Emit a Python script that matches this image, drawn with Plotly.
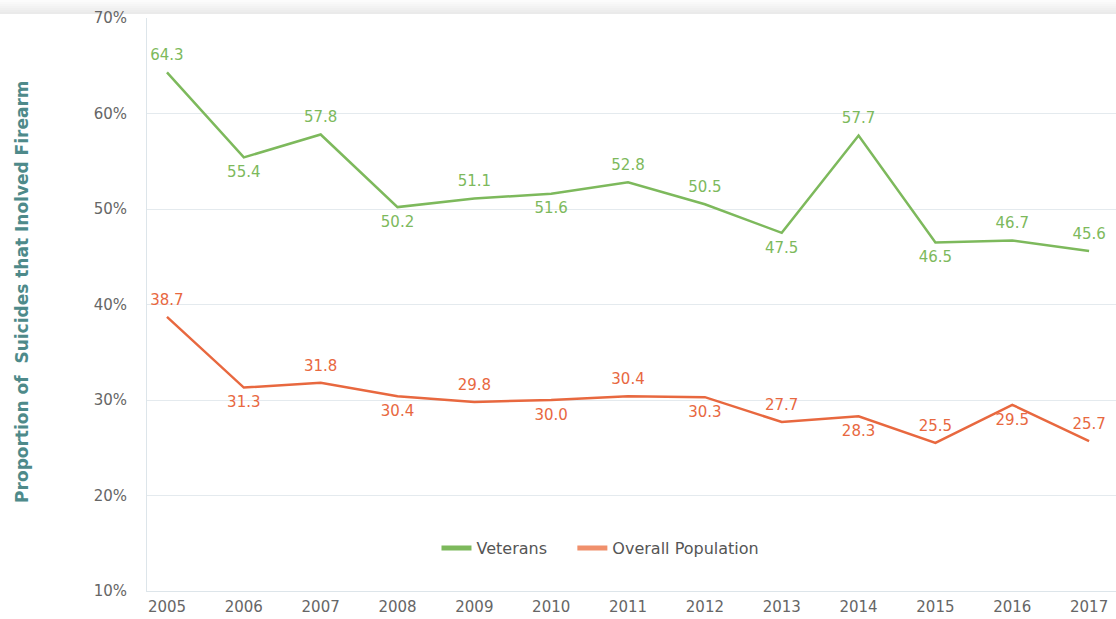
import plotly.graph_objects as go

years = [2005, 2006, 2007, 2008, 2009, 2010, 2011, 2012, 2013, 2014, 2015, 2016, 2017]
veterans = [64.3, 55.4, 57.8, 50.2, 51.1, 51.6, 52.8, 50.5, 47.5, 57.7, 46.5, 46.7, 45.6]
overall = [38.7, 31.3, 31.8, 30.4, 29.8, 30.0, 30.4, 30.3, 27.7, 28.3, 25.5, 29.5, 25.7]
vet_pos = ["top", "bottom", "top", "bottom", "top", "bottom", "top", "top", "bottom", "top", "bottom", "top", "top"]
ovr_pos = ["top", "bottom", "top", "bottom", "top", "bottom", "top", "bottom", "top", "bottom", "top", "bottom", "top"]
y_ticks = [10, 20, 30, 40, 50, 60, 70]
y_ticktext = [f"{t}%" for t in y_ticks]
y_title = "Proportion of\u00a0 Suicides that Inolved Firearm"

GREEN = "#7db95c"
ORANGE = "#e8683f"
ORANGE_LEG = "#f0906c"
FONT = "DejaVu Sans"

fig = go.Figure()
fig.add_trace(go.Scatter(
    x=years, y=veterans, mode="lines+markers+text",
    text=[f"{v:.1f}" for v in veterans],
    textposition=[p + " center" for p in vet_pos],
    textfont=dict(color=GREEN, size=15, family=FONT),
    line=dict(color=GREEN, width=2.5),
    marker=dict(size=12, color="rgba(0,0,0,0)"),
    showlegend=False, hoverinfo="skip", cliponaxis=False,
))
fig.add_trace(go.Scatter(
    x=years, y=overall, mode="lines+markers+text",
    text=[f"{v:.1f}" for v in overall],
    textposition=[p + " center" for p in ovr_pos],
    textfont=dict(color=ORANGE, size=15, family=FONT),
    line=dict(color=ORANGE, width=2.5),
    marker=dict(size=12, color="rgba(0,0,0,0)"),
    showlegend=False, hoverinfo="skip", cliponaxis=False,
))
fig.add_trace(go.Scatter(x=[None], y=[None], mode="lines", name="Veterans\u00a0\u00a0\u00a0\u00a0",
                         line=dict(color=GREEN, width=5)))
fig.add_trace(go.Scatter(x=[None], y=[None], mode="lines", name="Overall Population",
                         line=dict(color=ORANGE_LEG, width=5)))

# top shadow band
for i in range(7):
    fig.add_shape(type="rect", xref="paper", yref="paper",
                  x0=-0.2, x1=1.0,
                  y0=1 + (18 - 2 * (i + 1)) / 573, y1=1 + (18 - 2 * i) / 573,
                  fillcolor=f"rgba(0,0,0,{0.012 * (i + 1):.3f})", line=dict(width=0), layer="below")

fig.add_annotation(text=f"<b>{y_title}</b>", xref="paper", yref="paper",
                   x=-0.129, y=0.522, xanchor="center", yanchor="middle",
                   textangle=-90, showarrow=False,
                   font=dict(size=17, color="#4e8a8a", family=FONT))

fig.update_layout(
    width=1116, height=619,
    margin=dict(l=147, r=0, t=18, b=28),
    paper_bgcolor="white", plot_bgcolor="white",
    font=dict(family=FONT, color="#666666", size=15),
    legend=dict(orientation="h", x=0.468, xanchor="center", y=0.075, yanchor="middle",
                font=dict(size=16, color="#555555", family=FONT), bgcolor="rgba(0,0,0,0)"),
    xaxis=dict(range=[2004.74, 2017.35], tickmode="array", tickvals=years,
               ticktext=[str(y) for y in years], showgrid=False, zeroline=False,
               showline=True, linecolor="#dde5ea", linewidth=1,
               tickfont=dict(size=15, color="#666666"), ticks="", ticklabelstandoff=2),
    yaxis=dict(range=[10, 70], tickmode="array", tickvals=y_ticks, ticktext=y_ticktext,
               showgrid=True, gridcolor="#e4eaee", gridwidth=1, zeroline=False,
               showline=True, linecolor="#dde5ea", linewidth=1,
               tickfont=dict(size=15, color="#666666"), ticks="", ticklabelstandoff=16),
)

fig.write_html("out.html", config={"displayModeBar": False},
               post_script="document.body.style.margin='0';document.body.style.overflow='hidden';")
